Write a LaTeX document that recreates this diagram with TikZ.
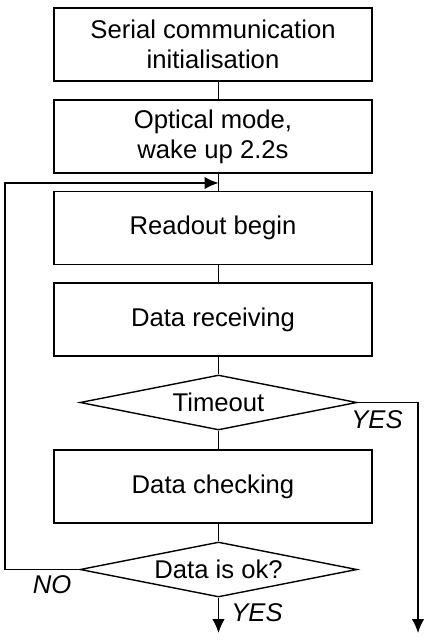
\documentclass[tikz,border=0pt]{standalone}
\usepackage{fontspec}
\setmainfont{Liberation Sans}
\usetikzlibrary{arrows.meta, shapes.geometric}

\begin{document}
\begin{tikzpicture}[x=0.02cm, y=-0.02cm,
  proc/.style={rectangle, draw=black, line width=0.8pt, minimum width=6.36cm, minimum height=1.46cm, align=center, font=\fontsize{14.6}{17}\selectfont},
  test/.style={diamond, draw=black, line width=0.8pt, aspect=5, inner sep=0pt, minimum width=5.54cm, minimum height=1.1cm, font=\fontsize{14.6}{17}\selectfont},
  flow/.style={line width=0.8pt},
  go/.style={-{Latex[length=2.8mm, width=2.5mm]}, line width=0.8pt},
  ans/.style={font=\fontsize{14.6}{17}\selectfont\itshape}
]
\useasboundingbox (0,0) rectangle (428,641);
\node[proc] (init) at (213,44.5) {Serial communication\\initialisation};
\node[proc] (optic) at (213,136.5) {Optical mode,\\wake up 2.2s};
\node[proc] (readout) at (213,228) {Readout begin};
\node[proc] (recv) at (213,319.5) {Data receiving};
\node[test] (timeout) at (218.5,402.5) {Timeout};
\node[proc] (check) at (213,486.5) {Data checking};
\node[test] (dataok) at (218.5,569.5) {Data is ok?};
\node[ans] (tyes) at (377,420) {YES};
\node[ans] (ono) at (52,585) {NO};
\node[ans] (oyes) at (257,613) {YES};
\coordinate (loop) at (5,183);
\coordinate (exit) at (418,633);
\coordinate (done) at (218.5,633);

\draw[flow] (init.south -| timeout.north) -- (optic.north -| timeout.north);
\draw[flow] (optic.south -| timeout.north) -- (readout.north -| timeout.north);
\draw[flow] (readout.south -| timeout.north) -- (recv.north -| timeout.north);
\draw[flow] (recv.south -| timeout.north) -- (timeout.north);
\draw[flow] (timeout.south) -- (check.north -| timeout.south);
\draw[flow] (check.south -| dataok.north) -- (dataok.north);
\draw[go] (dataok.west) -| (loop) -- (loop -| timeout.north);
\draw[go] (timeout.east) -| (exit);
\draw[go] (dataok.south) -- (done);
\end{tikzpicture}
\end{document}
